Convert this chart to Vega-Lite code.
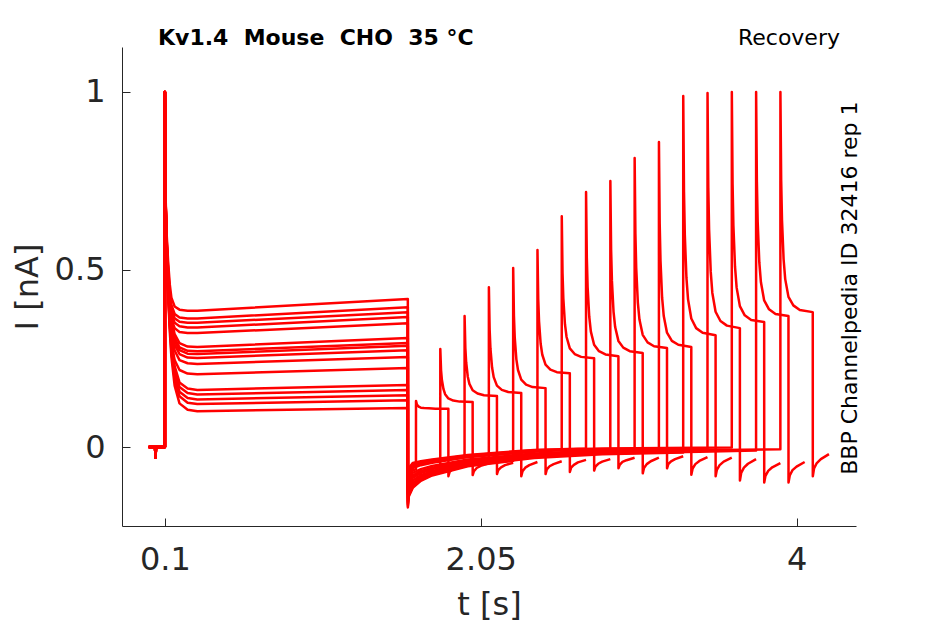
{
  "$schema": "https://vega.github.io/schema/vega-lite/v6.json",
  "width": 734,
  "height": 479,
  "autosize": "none",
  "padding": {"left": 122, "top": 47, "right": 89, "bottom": 98},
  "background": "white",
  "config": {"view": {"stroke": null}, "font": "DejaVu Sans"},
  "title": {
    "text": "Kv1.4\u00a0 Mouse\u00a0 CHO\u00a0 35 °C",
    "anchor": "start",
    "frame": "group",
    "dx": 36,
    "dy": 40,
    "offset": 0,
    "baseline": "alphabetic",
    "fontSize": 22,
    "fontWeight": "bold",
    "color": "black",
    "font": "DejaVu Sans"
  },
  "datasets": {
    "sw": [
      {"s":0,"t":0,"v":0},{"s":0,"t":0.039,"v":0},{"s":0,"t":0.042,"v":-0.03},{"s":0,"t":0.045,"v":0},{"s":0,"t":0.0998,"v":0},{"s":0,"t":0.1,"v":1},
      {"s":0,"t":0.105,"v":0.658},{"s":0,"t":0.11,"v":0.551},{"s":0,"t":0.12,"v":0.425},{"s":0,"t":0.13,"v":0.326},{"s":0,"t":0.14,"v":0.254},{"s":0,"t":0.16,"v":0.173},{"s":0,"t":0.19,"v":0.123},{"s":0,"t":0.24,"v":0.105},
      {"s":0,"t":0.3,"v":0.101},{"s":0,"t":1.5998,"v":0.110},{"s":0,"t":1.6,"v":-0.107},{"s":0,"t":1.605,"v":-0.084},{"s":0,"t":1.63,"v":-0.066},{"s":0,"t":1.65,"v":-0.062},
      {"s":0,"t":1.6503,"v":0.13},{"s":0,"t":1.655,"v":0.121},{"s":0,"t":1.66,"v":0.117},{"s":0,"t":1.67,"v":0.113},{"s":0,"t":1.68,"v":0.111},{"s":0,"t":1.70,"v":0.110},{"s":0,"t":1.73,"v":0.109},{"s":0,"t":1.77,"v":0.108},{"s":0,"t":1.85,"v":0.108},
      {"s":0,"t":1.8503,"v":-0.082},{"s":0,"t":1.858,"v":-0.070},{"s":0,"t":1.875,"v":-0.062},{"s":0,"t":1.9,"v":-0.055},{"s":0,"t":1.95,"v":-0.048},

      {"s":1,"t":0,"v":0},{"s":1,"t":0.039,"v":0},{"s":1,"t":0.042,"v":-0.03},{"s":1,"t":0.045,"v":0},{"s":1,"t":0.0998,"v":0},{"s":1,"t":0.1,"v":1},
      {"s":1,"t":0.105,"v":0.666},{"s":1,"t":0.11,"v":0.561},{"s":1,"t":0.12,"v":0.437},{"s":1,"t":0.13,"v":0.341},{"s":1,"t":0.14,"v":0.270},{"s":1,"t":0.16,"v":0.191},{"s":1,"t":0.19,"v":0.143},{"s":1,"t":0.24,"v":0.125},
      {"s":1,"t":0.3,"v":0.121},{"s":1,"t":1.5998,"v":0.132},{"s":1,"t":1.6,"v":-0.161},{"s":1,"t":1.605,"v":-0.132},{"s":1,"t":1.63,"v":-0.108},{"s":1,"t":1.68,"v":-0.090},{"s":1,"t":1.75,"v":-0.076},{"s":1,"t":1.8,"v":-0.070},
      {"s":1,"t":1.8003,"v":0.276},{"s":1,"t":1.805,"v":0.216},{"s":1,"t":1.81,"v":0.190},{"s":1,"t":1.82,"v":0.163},{"s":1,"t":1.83,"v":0.149},{"s":1,"t":1.85,"v":0.137},{"s":1,"t":1.88,"v":0.131},{"s":1,"t":1.92,"v":0.128},{"s":1,"t":2.0,"v":0.127},
      {"s":1,"t":2.0003,"v":-0.079},{"s":1,"t":2.008,"v":-0.068},{"s":1,"t":2.025,"v":-0.059},{"s":1,"t":2.05,"v":-0.053},{"s":1,"t":2.1,"v":-0.046},

      {"s":2,"t":0,"v":0},{"s":2,"t":0.039,"v":0},{"s":2,"t":0.042,"v":-0.03},{"s":2,"t":0.045,"v":0},{"s":2,"t":0.0998,"v":0},{"s":2,"t":0.1,"v":1},
      {"s":2,"t":0.105,"v":0.671},{"s":2,"t":0.11,"v":0.567},{"s":2,"t":0.12,"v":0.446},{"s":2,"t":0.13,"v":0.351},{"s":2,"t":0.14,"v":0.281},{"s":2,"t":0.16,"v":0.203},{"s":2,"t":0.19,"v":0.156},{"s":2,"t":0.24,"v":0.138},
      {"s":2,"t":0.3,"v":0.134},{"s":2,"t":1.5998,"v":0.146},{"s":2,"t":1.6,"v":-0.089},{"s":2,"t":1.605,"v":-0.068},{"s":2,"t":1.63,"v":-0.052},{"s":2,"t":1.68,"v":-0.046},{"s":2,"t":1.75,"v":-0.040},{"s":2,"t":1.95,"v":-0.027},
      {"s":2,"t":1.9503,"v":0.369},{"s":2,"t":1.955,"v":0.279},{"s":2,"t":1.96,"v":0.239},{"s":2,"t":1.97,"v":0.198},{"s":2,"t":1.98,"v":0.178},{"s":2,"t":2.0,"v":0.160},{"s":2,"t":2.03,"v":0.151},{"s":2,"t":2.07,"v":0.146},{"s":2,"t":2.15,"v":0.144},
      {"s":2,"t":2.1503,"v":-0.076},{"s":2,"t":2.158,"v":-0.065},{"s":2,"t":2.175,"v":-0.057},{"s":2,"t":2.2,"v":-0.051},{"s":2,"t":2.25,"v":-0.044},

      {"s":3,"t":0,"v":0},{"s":3,"t":0.039,"v":0},{"s":3,"t":0.042,"v":-0.03},{"s":3,"t":0.045,"v":0},{"s":3,"t":0.0998,"v":0},{"s":3,"t":0.1,"v":1},
      {"s":3,"t":0.105,"v":0.676},{"s":3,"t":0.11,"v":0.574},{"s":3,"t":0.12,"v":0.455},{"s":3,"t":0.13,"v":0.361},{"s":3,"t":0.14,"v":0.293},{"s":3,"t":0.16,"v":0.216},{"s":3,"t":0.19,"v":0.169},{"s":3,"t":0.24,"v":0.152},
      {"s":3,"t":0.3,"v":0.148},{"s":3,"t":1.5998,"v":0.161},{"s":3,"t":1.6,"v":-0.134},{"s":3,"t":1.605,"v":-0.108},{"s":3,"t":1.63,"v":-0.087},{"s":3,"t":1.68,"v":-0.073},{"s":3,"t":1.75,"v":-0.062},{"s":3,"t":1.97,"v":-0.041},{"s":3,"t":2.1,"v":-0.035},
      {"s":3,"t":2.1003,"v":0.45},{"s":3,"t":2.105,"v":0.331},{"s":3,"t":2.11,"v":0.277},{"s":3,"t":2.12,"v":0.224},{"s":3,"t":2.13,"v":0.197},{"s":3,"t":2.15,"v":0.173},{"s":3,"t":2.18,"v":0.161},{"s":3,"t":2.22,"v":0.155},{"s":3,"t":2.3,"v":0.152},
      {"s":3,"t":2.3003,"v":-0.082},{"s":3,"t":2.308,"v":-0.068},{"s":3,"t":2.325,"v":-0.058},{"s":3,"t":2.35,"v":-0.051},{"s":3,"t":2.4,"v":-0.042},

      {"s":4,"t":0,"v":0},{"s":4,"t":0.039,"v":0},{"s":4,"t":0.042,"v":-0.03},{"s":4,"t":0.045,"v":0},{"s":4,"t":0.0998,"v":0},{"s":4,"t":0.1,"v":1},
      {"s":4,"t":0.105,"v":0.681},{"s":4,"t":0.11,"v":0.581},{"s":4,"t":0.12,"v":0.463},{"s":4,"t":0.13,"v":0.371},{"s":4,"t":0.14,"v":0.304},{"s":4,"t":0.16,"v":0.228},{"s":4,"t":0.19,"v":0.182},{"s":4,"t":0.24,"v":0.165},
      {"s":4,"t":0.3,"v":0.161},{"s":4,"t":1.5998,"v":0.175},{"s":4,"t":1.6,"v":-0.17},{"s":4,"t":1.605,"v":-0.14},{"s":4,"t":1.63,"v":-0.115},{"s":4,"t":1.68,"v":-0.095},{"s":4,"t":1.75,"v":-0.08},{"s":4,"t":1.97,"v":-0.054},{"s":4,"t":2.25,"v":-0.039},
      {"s":4,"t":2.2503,"v":0.504},{"s":4,"t":2.255,"v":0.369},{"s":4,"t":2.26,"v":0.308},{"s":4,"t":2.27,"v":0.247},{"s":4,"t":2.28,"v":0.217},{"s":4,"t":2.3,"v":0.190},{"s":4,"t":2.33,"v":0.176},{"s":4,"t":2.37,"v":0.169},{"s":4,"t":2.45,"v":0.166},
      {"s":4,"t":2.4503,"v":-0.076},{"s":4,"t":2.458,"v":-0.063},{"s":4,"t":2.475,"v":-0.054},{"s":4,"t":2.5,"v":-0.048},{"s":4,"t":2.55,"v":-0.040},

      {"s":5,"t":0,"v":0},{"s":5,"t":0.039,"v":0},{"s":5,"t":0.042,"v":-0.03},{"s":5,"t":0.045,"v":0},{"s":5,"t":0.0998,"v":0},{"s":5,"t":0.1,"v":1},
      {"s":5,"t":0.105,"v":0.650},{"s":5,"t":0.11,"v":0.547},{"s":5,"t":0.12,"v":0.436},{"s":5,"t":0.13,"v":0.348},{"s":5,"t":0.14,"v":0.292},{"s":5,"t":0.16,"v":0.245},{"s":5,"t":0.19,"v":0.217},{"s":5,"t":0.24,"v":0.207},
      {"s":5,"t":0.3,"v":0.205},{"s":5,"t":1.5998,"v":0.223},{"s":5,"t":1.6,"v":-0.098},{"s":5,"t":1.605,"v":-0.076},{"s":5,"t":1.63,"v":-0.059},{"s":5,"t":1.68,"v":-0.051},{"s":5,"t":1.75,"v":-0.044},{"s":5,"t":1.97,"v":-0.028},{"s":5,"t":2.38,"v":-0.013},{"s":5,"t":2.4,"v":-0.012},
      {"s":5,"t":2.4003,"v":0.555},{"s":5,"t":2.405,"v":0.416},{"s":5,"t":2.41,"v":0.354},{"s":5,"t":2.42,"v":0.291},{"s":5,"t":2.43,"v":0.260},{"s":5,"t":2.45,"v":0.232},{"s":5,"t":2.48,"v":0.218},{"s":5,"t":2.52,"v":0.211},{"s":5,"t":2.6,"v":0.208},
      {"s":5,"t":2.6003,"v":-0.07},{"s":5,"t":2.608,"v":-0.058},{"s":5,"t":2.625,"v":-0.050},{"s":5,"t":2.65,"v":-0.043},{"s":5,"t":2.7,"v":-0.036},

      {"s":6,"t":0,"v":0},{"s":6,"t":0.039,"v":0},{"s":6,"t":0.042,"v":-0.03},{"s":6,"t":0.045,"v":0},{"s":6,"t":0.0998,"v":0},{"s":6,"t":0.1,"v":1},
      {"s":6,"t":0.105,"v":0.663},{"s":6,"t":0.11,"v":0.563},{"s":6,"t":0.12,"v":0.456},{"s":6,"t":0.13,"v":0.372},{"s":6,"t":0.14,"v":0.318},{"s":6,"t":0.16,"v":0.272},{"s":6,"t":0.19,"v":0.245},{"s":6,"t":0.24,"v":0.236},
      {"s":6,"t":0.3,"v":0.234},{"s":6,"t":1.5998,"v":0.254},{"s":6,"t":1.6,"v":-0.152},{"s":6,"t":1.605,"v":-0.124},{"s":6,"t":1.63,"v":-0.101},{"s":6,"t":1.68,"v":-0.084},{"s":6,"t":1.75,"v":-0.071},{"s":6,"t":1.97,"v":-0.048},{"s":6,"t":2.38,"v":-0.027},{"s":6,"t":2.55,"v":-0.023},
      {"s":6,"t":2.5503,"v":0.65},{"s":6,"t":2.555,"v":0.49},{"s":6,"t":2.56,"v":0.418},{"s":6,"t":2.57,"v":0.346},{"s":6,"t":2.58,"v":0.31},{"s":6,"t":2.6,"v":0.278},{"s":6,"t":2.63,"v":0.262},{"s":6,"t":2.67,"v":0.254},{"s":6,"t":2.75,"v":0.25},
      {"s":6,"t":2.7503,"v":-0.066},{"s":6,"t":2.758,"v":-0.055},{"s":6,"t":2.775,"v":-0.047},{"s":6,"t":2.8,"v":-0.041},{"s":6,"t":2.85,"v":-0.034},

      {"s":7,"t":0,"v":0},{"s":7,"t":0.039,"v":0},{"s":7,"t":0.042,"v":-0.03},{"s":7,"t":0.045,"v":0},{"s":7,"t":0.0998,"v":0},{"s":7,"t":0.1,"v":1},
      {"s":7,"t":0.105,"v":0.670},{"s":7,"t":0.11,"v":0.573},{"s":7,"t":0.12,"v":0.468},{"s":7,"t":0.13,"v":0.386},{"s":7,"t":0.14,"v":0.333},{"s":7,"t":0.16,"v":0.288},{"s":7,"t":0.19,"v":0.262},{"s":7,"t":0.24,"v":0.252},
      {"s":7,"t":0.3,"v":0.251},{"s":7,"t":1.5998,"v":0.273},{"s":7,"t":1.6,"v":-0.08},{"s":7,"t":1.605,"v":-0.06},{"s":7,"t":1.63,"v":-0.045},{"s":7,"t":1.68,"v":-0.04},{"s":7,"t":1.75,"v":-0.035},{"s":7,"t":1.97,"v":-0.022},{"s":7,"t":2.38,"v":-0.008},{"s":7,"t":2.7,"v":-0.004},
      {"s":7,"t":2.7003,"v":0.718},{"s":7,"t":2.705,"v":0.533},{"s":7,"t":2.71,"v":0.450},{"s":7,"t":2.72,"v":0.367},{"s":7,"t":2.73,"v":0.325},{"s":7,"t":2.75,"v":0.288},{"s":7,"t":2.78,"v":0.270},{"s":7,"t":2.82,"v":0.261},{"s":7,"t":2.9,"v":0.256},
      {"s":7,"t":2.9003,"v":-0.06},{"s":7,"t":2.908,"v":-0.050},{"s":7,"t":2.925,"v":-0.042},{"s":7,"t":2.95,"v":-0.037},{"s":7,"t":3.0,"v":-0.03},

      {"s":8,"t":0,"v":0},{"s":8,"t":0.039,"v":0},{"s":8,"t":0.042,"v":-0.03},{"s":8,"t":0.045,"v":0},{"s":8,"t":0.0998,"v":0},{"s":8,"t":0.1,"v":1},
      {"s":8,"t":0.105,"v":0.675},{"s":8,"t":0.11,"v":0.579},{"s":8,"t":0.12,"v":0.476},{"s":8,"t":0.13,"v":0.395},{"s":8,"t":0.14,"v":0.343},{"s":8,"t":0.16,"v":0.299},{"s":8,"t":0.19,"v":0.273},{"s":8,"t":0.24,"v":0.263},
      {"s":8,"t":0.3,"v":0.262},{"s":8,"t":1.5998,"v":0.285},{"s":8,"t":1.6,"v":-0.125},{"s":8,"t":1.605,"v":-0.10},{"s":8,"t":1.63,"v":-0.08},{"s":8,"t":1.68,"v":-0.068},{"s":8,"t":1.75,"v":-0.058},{"s":8,"t":1.97,"v":-0.038},{"s":8,"t":2.38,"v":-0.02},{"s":8,"t":2.8,"v":-0.012},{"s":8,"t":2.85,"v":-0.012},
      {"s":8,"t":2.8503,"v":0.749},{"s":8,"t":2.855,"v":0.555},{"s":8,"t":2.86,"v":0.468},{"s":8,"t":2.87,"v":0.381},{"s":8,"t":2.88,"v":0.338},{"s":8,"t":2.9,"v":0.299},{"s":8,"t":2.93,"v":0.280},{"s":8,"t":2.97,"v":0.270},{"s":8,"t":3.05,"v":0.265},
      {"s":8,"t":3.0503,"v":-0.074},{"s":8,"t":3.058,"v":-0.059},{"s":8,"t":3.075,"v":-0.048},{"s":8,"t":3.1,"v":-0.040},{"s":8,"t":3.15,"v":-0.03},

      {"s":9,"t":0,"v":0},{"s":9,"t":0.039,"v":0},{"s":9,"t":0.042,"v":-0.03},{"s":9,"t":0.045,"v":0},{"s":9,"t":0.0998,"v":0},{"s":9,"t":0.1,"v":1},
      {"s":9,"t":0.105,"v":0.679},{"s":9,"t":0.11,"v":0.584},{"s":9,"t":0.12,"v":0.482},{"s":9,"t":0.13,"v":0.401},{"s":9,"t":0.14,"v":0.350},{"s":9,"t":0.16,"v":0.307},{"s":9,"t":0.19,"v":0.281},{"s":9,"t":0.24,"v":0.271},
      {"s":9,"t":0.3,"v":0.270},{"s":9,"t":1.5998,"v":0.293},{"s":9,"t":1.6,"v":-0.143},{"s":9,"t":1.605,"v":-0.116},{"s":9,"t":1.63,"v":-0.094},{"s":9,"t":1.68,"v":-0.079},{"s":9,"t":1.75,"v":-0.067},{"s":9,"t":1.97,"v":-0.044},{"s":9,"t":2.38,"v":-0.025},{"s":9,"t":2.8,"v":-0.016},{"s":9,"t":3.0,"v":-0.014},
      {"s":9,"t":3.0003,"v":0.814},{"s":9,"t":3.005,"v":0.600},{"s":9,"t":3.01,"v":0.504},{"s":9,"t":3.02,"v":0.407},{"s":9,"t":3.03,"v":0.359},{"s":9,"t":3.05,"v":0.316},{"s":9,"t":3.08,"v":0.295},{"s":9,"t":3.12,"v":0.284},{"s":9,"t":3.2,"v":0.279},
      {"s":9,"t":3.2003,"v":-0.06},{"s":9,"t":3.208,"v":-0.048},{"s":9,"t":3.225,"v":-0.040},{"s":9,"t":3.25,"v":-0.034},{"s":9,"t":3.3,"v":-0.026},

      {"s":10,"t":0,"v":0},{"s":10,"t":0.039,"v":0},{"s":10,"t":0.042,"v":-0.03},{"s":10,"t":0.045,"v":0},{"s":10,"t":0.0998,"v":0},{"s":10,"t":0.1,"v":1},
      {"s":10,"t":0.105,"v":0.684},{"s":10,"t":0.11,"v":0.591},{"s":10,"t":0.12,"v":0.490},{"s":10,"t":0.13,"v":0.411},{"s":10,"t":0.14,"v":0.361},{"s":10,"t":0.16,"v":0.318},{"s":10,"t":0.19,"v":0.293},{"s":10,"t":0.24,"v":0.283},
      {"s":10,"t":0.3,"v":0.282},{"s":10,"t":1.5998,"v":0.307},{"s":10,"t":1.6,"v":-0.094},{"s":10,"t":1.605,"v":-0.072},{"s":10,"t":1.63,"v":-0.056},{"s":10,"t":1.68,"v":-0.048},{"s":10,"t":1.75,"v":-0.042},{"s":10,"t":1.97,"v":-0.027},{"s":10,"t":2.38,"v":-0.012},{"s":10,"t":2.8,"v":-0.006},{"s":10,"t":3.15,"v":-0.004},
      {"s":10,"t":3.1503,"v":0.859},{"s":10,"t":3.155,"v":0.628},{"s":10,"t":3.16,"v":0.524},{"s":10,"t":3.17,"v":0.420},{"s":10,"t":3.18,"v":0.369},{"s":10,"t":3.2,"v":0.322},{"s":10,"t":3.23,"v":0.299},{"s":10,"t":3.27,"v":0.288},{"s":10,"t":3.35,"v":0.282},
      {"s":10,"t":3.3503,"v":-0.078},{"s":10,"t":3.358,"v":-0.061},{"s":10,"t":3.375,"v":-0.048},{"s":10,"t":3.4,"v":-0.039},{"s":10,"t":3.45,"v":-0.028},

      {"s":11,"t":0,"v":0},{"s":11,"t":0.039,"v":0},{"s":11,"t":0.042,"v":-0.03},{"s":11,"t":0.045,"v":0},{"s":11,"t":0.0998,"v":0},{"s":11,"t":0.1,"v":1},
      {"s":11,"t":0.105,"v":0.661},{"s":11,"t":0.11,"v":0.565},{"s":11,"t":0.12,"v":0.470},{"s":11,"t":0.13,"v":0.402},{"s":11,"t":0.14,"v":0.362},{"s":11,"t":0.16,"v":0.335},{"s":11,"t":0.19,"v":0.324},{"s":11,"t":0.24,"v":0.321},
      {"s":11,"t":0.3,"v":0.321},{"s":11,"t":1.5998,"v":0.349},{"s":11,"t":1.6,"v":-0.166},{"s":11,"t":1.605,"v":-0.136},{"s":11,"t":1.63,"v":-0.112},{"s":11,"t":1.68,"v":-0.092},{"s":11,"t":1.75,"v":-0.078},{"s":11,"t":1.97,"v":-0.052},{"s":11,"t":2.38,"v":-0.031},{"s":11,"t":2.8,"v":-0.020},{"s":11,"t":3.3,"v":-0.015},
      {"s":11,"t":3.3003,"v":0.989},{"s":11,"t":3.305,"v":0.719},{"s":11,"t":3.31,"v":0.598},{"s":11,"t":3.32,"v":0.477},{"s":11,"t":3.33,"v":0.416},{"s":11,"t":3.35,"v":0.362},{"s":11,"t":3.38,"v":0.335},{"s":11,"t":3.42,"v":0.322},{"s":11,"t":3.5,"v":0.315},
      {"s":11,"t":3.5003,"v":-0.082},{"s":11,"t":3.508,"v":-0.064},{"s":11,"t":3.525,"v":-0.051},{"s":11,"t":3.55,"v":-0.041},{"s":11,"t":3.6,"v":-0.03},

      {"s":12,"t":0,"v":0},{"s":12,"t":0.039,"v":0},{"s":12,"t":0.042,"v":-0.03},{"s":12,"t":0.045,"v":0},{"s":12,"t":0.0998,"v":0},{"s":12,"t":0.1,"v":1},
      {"s":12,"t":0.105,"v":0.669},{"s":12,"t":0.11,"v":0.576},{"s":12,"t":0.12,"v":0.483},{"s":12,"t":0.13,"v":0.417},{"s":12,"t":0.14,"v":0.377},{"s":12,"t":0.16,"v":0.350},{"s":12,"t":0.19,"v":0.340},{"s":12,"t":0.24,"v":0.337},
      {"s":12,"t":0.3,"v":0.337},{"s":12,"t":1.5998,"v":0.366},{"s":12,"t":1.6,"v":-0.116},{"s":12,"t":1.605,"v":-0.092},{"s":12,"t":1.63,"v":-0.073},{"s":12,"t":1.68,"v":-0.062},{"s":12,"t":1.75,"v":-0.053},{"s":12,"t":1.97,"v":-0.035},{"s":12,"t":2.38,"v":-0.018},{"s":12,"t":2.8,"v":-0.010},{"s":12,"t":3.4,"v":-0.007},{"s":12,"t":3.45,"v":-0.006},
      {"s":12,"t":3.4503,"v":0.997},{"s":12,"t":3.455,"v":0.732},{"s":12,"t":3.46,"v":0.613},{"s":12,"t":3.47,"v":0.494},{"s":12,"t":3.48,"v":0.434},{"s":12,"t":3.5,"v":0.381},{"s":12,"t":3.53,"v":0.355},{"s":12,"t":3.57,"v":0.342},{"s":12,"t":3.65,"v":0.335},
      {"s":12,"t":3.6503,"v":-0.094},{"s":12,"t":3.658,"v":-0.073},{"s":12,"t":3.675,"v":-0.058},{"s":12,"t":3.7,"v":-0.047},{"s":12,"t":3.75,"v":-0.034},

      {"s":13,"t":0,"v":0},{"s":13,"t":0.039,"v":0},{"s":13,"t":0.042,"v":-0.03},{"s":13,"t":0.045,"v":0},{"s":13,"t":0.0998,"v":0},{"s":13,"t":0.1,"v":1},
      {"s":13,"t":0.105,"v":0.675},{"s":13,"t":0.11,"v":0.584},{"s":13,"t":0.12,"v":0.493},{"s":13,"t":0.13,"v":0.428},{"s":13,"t":0.14,"v":0.389},{"s":13,"t":0.16,"v":0.363},{"s":13,"t":0.19,"v":0.353},{"s":13,"t":0.24,"v":0.350},
      {"s":13,"t":0.3,"v":0.350},{"s":13,"t":1.5998,"v":0.380},{"s":13,"t":1.6,"v":-0.085},{"s":13,"t":1.605,"v":-0.064},{"s":13,"t":1.63,"v":-0.049},{"s":13,"t":1.68,"v":-0.043},{"s":13,"t":1.75,"v":-0.037},{"s":13,"t":1.97,"v":-0.024},{"s":13,"t":2.38,"v":-0.009},{"s":13,"t":2.8,"v":-0.004},{"s":13,"t":3.4,"v":-0.002},{"s":13,"t":3.6,"v":-0.001},
      {"s":13,"t":3.6003,"v":1.0},{"s":13,"t":3.605,"v":0.741},{"s":13,"t":3.61,"v":0.624},{"s":13,"t":3.62,"v":0.508},{"s":13,"t":3.63,"v":0.449},{"s":13,"t":3.65,"v":0.397},{"s":13,"t":3.68,"v":0.371},{"s":13,"t":3.72,"v":0.358},{"s":13,"t":3.8,"v":0.352},
      {"s":13,"t":3.8003,"v":-0.1},{"s":13,"t":3.808,"v":-0.081},{"s":13,"t":3.825,"v":-0.067},{"s":13,"t":3.85,"v":-0.057},{"s":13,"t":3.9,"v":-0.045},

      {"s":14,"t":0,"v":0},{"s":14,"t":0.039,"v":0},{"s":14,"t":0.042,"v":-0.03},{"s":14,"t":0.045,"v":0},{"s":14,"t":0.0998,"v":0},{"s":14,"t":0.1,"v":1},
      {"s":14,"t":0.105,"v":0.681},{"s":14,"t":0.11,"v":0.592},{"s":14,"t":0.12,"v":0.502},{"s":14,"t":0.13,"v":0.439},{"s":14,"t":0.14,"v":0.400},{"s":14,"t":0.16,"v":0.375},{"s":14,"t":0.19,"v":0.365},{"s":14,"t":0.24,"v":0.362},
      {"s":14,"t":0.3,"v":0.362},{"s":14,"t":1.5998,"v":0.394},{"s":14,"t":1.6,"v":-0.157},{"s":14,"t":1.605,"v":-0.128},{"s":14,"t":1.63,"v":-0.105},{"s":14,"t":1.68,"v":-0.087},{"s":14,"t":1.75,"v":-0.073},{"s":14,"t":1.97,"v":-0.049},{"s":14,"t":2.38,"v":-0.028},{"s":14,"t":2.8,"v":-0.018},{"s":14,"t":3.4,"v":-0.013},{"s":14,"t":3.75,"v":-0.010},
      {"s":14,"t":3.7503,"v":1.0},{"s":14,"t":3.755,"v":0.748},{"s":14,"t":3.76,"v":0.634},{"s":14,"t":3.77,"v":0.520},{"s":14,"t":3.78,"v":0.464},{"s":14,"t":3.8,"v":0.413},{"s":14,"t":3.83,"v":0.388},{"s":14,"t":3.87,"v":0.375},{"s":14,"t":3.95,"v":0.369},
      {"s":14,"t":3.9503,"v":-0.1},{"s":14,"t":3.958,"v":-0.080},{"s":14,"t":3.975,"v":-0.065},{"s":14,"t":4.0,"v":-0.055},{"s":14,"t":4.05,"v":-0.042},

      {"s":15,"t":0,"v":0},{"s":15,"t":0.039,"v":0},{"s":15,"t":0.042,"v":-0.03},{"s":15,"t":0.045,"v":0},{"s":15,"t":0.0998,"v":0},{"s":15,"t":0.1,"v":1},
      {"s":15,"t":0.105,"v":0.692},{"s":15,"t":0.11,"v":0.606},{"s":15,"t":0.12,"v":0.520},{"s":15,"t":0.13,"v":0.458},{"s":15,"t":0.14,"v":0.421},{"s":15,"t":0.16,"v":0.396},{"s":15,"t":0.19,"v":0.387},{"s":15,"t":0.24,"v":0.384},
      {"s":15,"t":0.3,"v":0.384},{"s":15,"t":1.5998,"v":0.417},{"s":15,"t":1.6,"v":-0.13},{"s":15,"t":1.605,"v":-0.104},{"s":15,"t":1.63,"v":-0.084},{"s":15,"t":1.68,"v":-0.070},{"s":15,"t":1.75,"v":-0.060},{"s":15,"t":1.97,"v":-0.040},{"s":15,"t":2.38,"v":-0.021},{"s":15,"t":2.8,"v":-0.013},{"s":15,"t":3.4,"v":-0.009},{"s":15,"t":3.9,"v":-0.006},
      {"s":15,"t":3.9003,"v":1.0},{"s":15,"t":3.905,"v":0.752},{"s":15,"t":3.91,"v":0.640},{"s":15,"t":3.92,"v":0.529},{"s":15,"t":3.93,"v":0.473},{"s":15,"t":3.95,"v":0.423},{"s":15,"t":3.98,"v":0.399},{"s":15,"t":4.02,"v":0.386},{"s":15,"t":4.1,"v":0.38},
      {"s":15,"t":4.1003,"v":-0.082},{"s":15,"t":4.108,"v":-0.060},{"s":15,"t":4.125,"v":-0.045},{"s":15,"t":4.15,"v":-0.034},{"s":15,"t":4.2,"v":-0.02}
    ]
  },
  "layer": [
    {
      "data": {"name": "sw"},
      "mark": {"type": "line", "color": "#ff0000", "strokeWidth": 2.5, "strokeJoin": "round"},
      "encoding": {
        "x": {
          "field": "t", "type": "quantitative",
          "scale": {"domain": [-0.165, 4.367], "nice": false, "zero": false},
          "axis": {
            "values": [0.1, 2.05, 4], "format": ".3~g", "title": "t [s]", "grid": false,
            "tickSize": -8, "labelPadding": 26, "titlePadding": 14,
            "labelFontSize": 32, "titleFontSize": 32, "titleFontWeight": "normal",
            "labelFont": "DejaVu Sans", "titleFont": "DejaVu Sans",
            "labelColor": "#262626", "titleColor": "#262626", "domainColor": "#262626", "tickColor": "#262626"
          }
        },
        "y": {
          "field": "v", "type": "quantitative",
          "scale": {"domain": [-0.2223, 1.1267], "nice": false, "zero": false},
          "axis": {
            "values": [0, 0.5, 1], "format": ".3~g", "title": "I [nA]", "grid": false,
            "tickSize": -8, "labelPadding": 25, "titlePadding": 10,
            "labelFontSize": 32, "titleFontSize": 32, "titleFontWeight": "normal",
            "labelFont": "DejaVu Sans", "titleFont": "DejaVu Sans",
            "labelColor": "#262626", "titleColor": "#262626", "domainColor": "#262626", "tickColor": "#262626"
          }
        },
        "detail": {"field": "s", "type": "nominal"}
      }
    },
    {
      "data": {"values": [{"txt": "Recovery"}]},
      "mark": {"type": "text", "align": "right", "baseline": "alphabetic", "fontSize": 22, "font": "DejaVu Sans", "color": "black"},
      "encoding": {
        "x": {"datum": 4.268},
        "y": {"datum": 1.1314},
        "text": {"field": "txt"}
      }
    },
    {
      "data": {"values": [{"txt": "BBP Channelpedia ID 32416 rep 1"}]},
      "mark": {"type": "text", "align": "center", "baseline": "middle", "angle": 270, "fontSize": 22, "font": "DejaVu Sans", "color": "black"},
      "encoding": {
        "x": {"datum": 4.33},
        "y": {"datum": 0.4475},
        "text": {"field": "txt"}
      }
    }
  ]
}
